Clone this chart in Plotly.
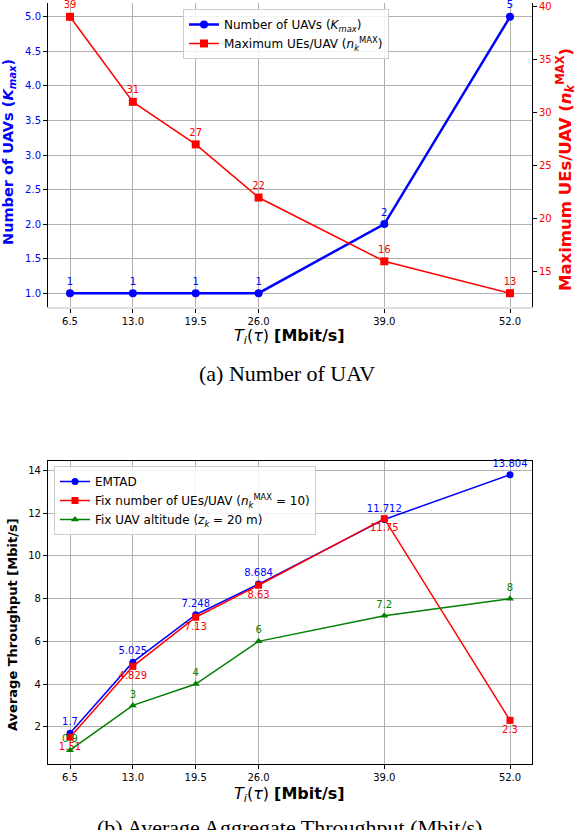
import plotly.graph_objects as go

# data rate thresholds (Mbit/s)
rates = [6.5, 13.0, 19.5, 26.0, 39.0, 52.0]
rate_labels = ["6.5", "13.0", "19.5", "26.0", "39.0", "52.0"]

# (a) number of UAVs and max UEs per UAV
num_uavs = [1, 1, 1, 1, 2, 5]
max_ues = [39, 31, 27, 22, 16, 13]

# (b) average aggregate throughput
emtad = [1.7, 5.025, 7.248, 8.684, 11.712, 13.804]
fix_ues = [1.51, 4.829, 7.13, 8.63, 11.75, 2.3]
fix_alt = [0.9, 3, 4, 6, 7.2, 8]

BLUE = "#0000ff"
RED = "#ff0000"
GREEN = "#008000"
GRID = "#b0b0b0"
FONT = "DejaVu Sans"
W, H = 578, 830


def px(x, y):
    # pixel position -> paper coords
    return x / W, 1 - y / H


fig = go.Figure()

# top chart
fig.add_trace(go.Scatter(x=rates, y=num_uavs, mode="lines+markers+text",
                         name="Number of UAVs (<i>K</i><sub><i>max</i></sub>)",
                         line=dict(color=BLUE, width=2.5), marker=dict(symbol="circle", size=8, color=BLUE),
                         text=[str(v) for v in num_uavs], textposition="top center",
                         textfont=dict(color=BLUE, size=10), cliponaxis=False,
                         xaxis="x", yaxis="y", legend="legend"))
fig.add_trace(go.Scatter(x=rates, y=max_ues, mode="lines+markers+text",
                         name="Maximum UEs/UAV (<i>n</i><sub><i>k</i></sub><sup>MAX</sup>)",
                         line=dict(color=RED, width=1.5), marker=dict(symbol="square", size=8, color=RED),
                         text=[str(v) for v in max_ues], textposition="top center",
                         textfont=dict(color=RED, size=10), cliponaxis=False,
                         xaxis="x", yaxis="y2", legend="legend"))

# bottom chart
fig.add_trace(go.Scatter(x=rates, y=emtad, mode="lines+markers+text", name="EMTAD",
                         line=dict(color=BLUE, width=1.5), marker=dict(symbol="circle", size=7, color=BLUE),
                         text=[str(v) for v in emtad], textposition="top center",
                         textfont=dict(color=BLUE, size=10), cliponaxis=False,
                         xaxis="x2", yaxis="y3", legend="legend2"))
fig.add_trace(go.Scatter(x=rates, y=fix_ues, mode="lines+markers+text",
                         name="Fix number of UEs/UAV (<i>n</i><sub><i>k</i></sub><sup>MAX</sup> = 10)",
                         line=dict(color=RED, width=1.5), marker=dict(symbol="square", size=7, color=RED),
                         text=[str(v) for v in fix_ues], textposition="bottom center",
                         textfont=dict(color=RED, size=10), cliponaxis=False,
                         xaxis="x2", yaxis="y3", legend="legend2"))
fig.add_trace(go.Scatter(x=rates, y=fix_alt, mode="lines+markers+text",
                         name="Fix UAV altitude (<i>z</i><sub><i>k</i></sub> = 20 m)",
                         line=dict(color=GREEN, width=1.5), marker=dict(symbol="triangle-up", size=7, color=GREEN),
                         text=[str(v) for v in fix_alt], textposition="top center",
                         textfont=dict(color=GREEN, size=10), cliponaxis=False,
                         xaxis="x2", yaxis="y3", legend="legend2"))

xtitle = "<i>T</i><sub><i>i</i></sub>(<i>τ</i>) <b>[Mbit/s]</b>"
xcommon = dict(range=[4.225, 54.275], tickvals=rates, ticktext=rate_labels, automargin=False,
               showgrid=True, gridcolor=GRID, gridwidth=1, zeroline=False,
               ticks="outside", ticklen=4, tickcolor="black",
               tickfont=dict(size=10, color="black"))
xdom = [48 / W, 532 / W]

fig.update_layout(
    width=W, height=H,
    margin=dict(l=0, r=0, t=0, b=0),
    paper_bgcolor="white", plot_bgcolor="white",
    font=dict(family=FONT, color="black"),
    showlegend=True,
    xaxis=dict(domain=xdom, anchor="y", showline=True, linecolor="#dddddd", linewidth=2, **xcommon),
    yaxis=dict(domain=[1 - 307 / H, 1 - 3 / H], range=[0.8, 5.2], dtick=0.5, tickformat=".1f",
               automargin=False, showgrid=True, gridcolor=GRID, zeroline=False,
               showline=True, linecolor="black",
               ticks="outside", ticklen=4, tickcolor="black",
               tickfont=dict(size=10, color=BLUE)),
    yaxis2=dict(overlaying="y", side="right", anchor="x", range=[11.7, 40.3], dtick=5,
                automargin=False, showgrid=False, zeroline=False, showline=True, linecolor="black",
                ticks="outside", ticklen=4, tickcolor="black",
                tickfont=dict(size=10, color=RED)),
    xaxis2=dict(domain=xdom, anchor="y3", showline=True, linecolor="black", linewidth=1.2,
                mirror=True, **xcommon),
    yaxis3=dict(domain=[1 - 764 / H, 1 - 461 / H], anchor="x2", range=[0.255, 14.449],
                tickvals=[2, 4, 6, 8, 10, 12, 14], automargin=False,
                showgrid=True, gridcolor=GRID, zeroline=False, showline=True, linecolor="black", linewidth=1.2,
                mirror=True, ticks="outside", ticklen=4, tickcolor="black",
                tickfont=dict(size=10, color="black")),
    legend=dict(x=183 / W, y=1 - 9 / H, xanchor="left", yanchor="top",
                bgcolor="rgba(255,255,255,0.85)", bordercolor="#cccccc", borderwidth=1,
                font=dict(size=12), tracegroupgap=0),
    legend2=dict(x=54 / W, y=1 - 466 / H, xanchor="left", yanchor="top",
                 bgcolor="rgba(255,255,255,0.85)", bordercolor="#cccccc", borderwidth=1,
                 font=dict(size=12), tracegroupgap=0),
)

# axis titles and captions
titles = [
    (xtitle, 289, 336, 0, 16, "black", FONT),
    (xtitle, 289, 794, 0, 16, "black", FONT),
    ("<b>Number of UAVs (<i>K</i><sub><i>max</i></sub>)</b>", 9, 152, -90, 14.5, BLUE, FONT),
    ("<b>Maximum UEs/UAV (<i>n</i><sub><i>k</i></sub><sup>MAX</sup>)</b>", 565, 170, -90, 16.5, RED, FONT),
    ("<b>Average Throughput [Mbit/s]</b>", 12, 625, -90, 13, "black", FONT),
    ("(a) Number of UAV", 287, 373, 0, 22, "black", "Liberation Serif"),
    ("(b) Average Aggregate Throughput (Mbit/s)", 289, 827, 0, 22, "black", "Liberation Serif"),
]
for text, tx, ty, ang, size, color, fam in titles:
    ax, ay = px(tx, ty)
    fig.add_annotation(text=text, x=ax, y=ay, xref="paper", yref="paper", showarrow=False,
                       xanchor="center", yanchor="middle", textangle=ang,
                       font=dict(family=fam, size=size, color=color))

# drop the default page margin so the figure sits at the window's corner
fig.write_html("out.html", config={"displayModeBar": False},
               post_script="document.body.style.margin='0';")
